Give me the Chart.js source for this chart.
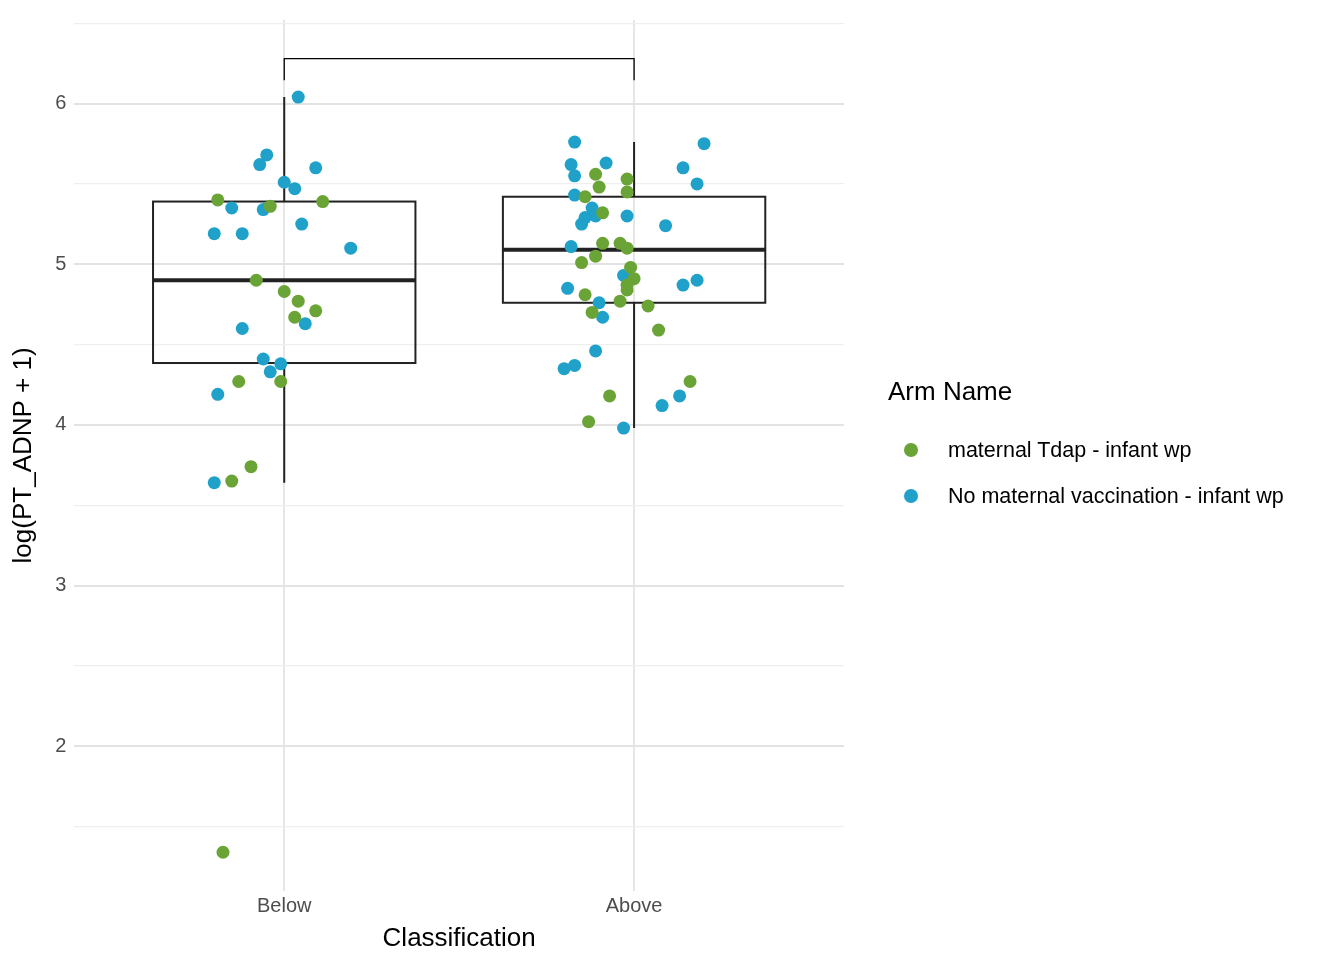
<!DOCTYPE html>
<html><head><meta charset="utf-8">
<script src="https://cdn.jsdelivr.net/npm/chart.js@4/dist/chart.umd.min.js"></script>
<style>
body{margin:0;background:#fff;font-family:"Liberation Sans",Arial,sans-serif;}
#wrap{position:relative;width:1344px;height:960px;}
#legend{position:absolute;left:888px;top:376px;color:#000;}
#legend .t{font-size:26px;margin-bottom:20px;}
#legend .r{font-size:21.5px;height:46px;display:flex;align-items:center;}
#legend .d{width:14px;height:14px;border-radius:50%;margin:0 30px 0 16px;}
</style></head><body>
<div id="wrap"><canvas id="c" width="1344" height="960"></canvas>
<div id="legend"><div class="t">Arm Name</div>
<div class="r"><span class="d" style="background:#6aa336"></span>maternal Tdap - infant wp</div>
<div class="r"><span class="d" style="background:#1fa1c9"></span>No maternal vaccination - infant wp</div></div></div>
<script>
var categories = ["Below", "Above"];
var seriesNames = ["maternal Tdap - infant wp", "No maternal vaccination - infant wp"];
var colors = ["#6aa336", "#1fa1c9"];
// jittered points [x position, value]
var tdapBelow = [[0.81,5.40],[0.96,5.36],[0.92,4.90],[1.00,4.83],[1.04,4.77],[1.09,4.71],[1.03,4.67],[0.87,4.27],[0.99,4.27],[0.905,3.74],[0.85,3.65],[0.825,1.34],[1.11,5.39]];
var noVaxBelow = [[1.04,6.04],[0.95,5.68],[0.93,5.62],[1.09,5.60],[1.00,5.51],[1.03,5.47],[0.85,5.35],[0.94,5.34],[1.05,5.25],[0.80,5.19],[0.88,5.19],[1.19,5.10],[0.88,4.60],[1.06,4.63],[0.94,4.41],[0.99,4.38],[0.96,4.33],[0.81,4.19],[0.80,3.64]];
var tdapAbove = [[1.89,5.56],[1.98,5.53],[1.90,5.48],[1.98,5.45],[1.86,5.42],[1.91,5.32],[1.91,5.13],[1.96,5.13],[1.98,5.10],[1.89,5.05],[1.85,5.01],[1.99,4.98],[2.00,4.91],[1.98,4.87],[1.98,4.84],[1.86,4.81],[1.96,4.77],[2.04,4.74],[1.88,4.70],[2.07,4.59],[2.16,4.27],[1.93,4.18],[1.87,4.02]];
var noVaxAbove = [[1.83,5.76],[2.20,5.75],[1.82,5.62],[1.92,5.63],[1.83,5.55],[2.14,5.60],[2.18,5.50],[1.83,5.43],[1.88,5.35],[1.89,5.30],[1.98,5.30],[1.86,5.29],[1.85,5.25],[2.09,5.24],[1.82,5.11],[1.97,4.93],[2.18,4.90],[2.14,4.87],[1.81,4.85],[1.90,4.76],[1.91,4.67],[1.89,4.46],[1.83,4.37],[1.80,4.35],[2.13,4.18],[2.08,4.12],[1.97,3.98]];
// box stats: [whiskerLow, q1, median, q3, whiskerHigh]
var boxStats = [[3.64,4.385,4.90,5.39,6.04],[3.98,4.76,5.09,5.42,5.76]];
var bracket = {y: 6.28, drop: 6.145};

function pts(a){ return a.map(function(p){ return {x:p[0], y:p[1]}; }); }

var boxPlugin = {
  id: "boxes",
  beforeDatasetsDraw: function(chart){
    var ctx = chart.ctx, xs = chart.scales.x, ys = chart.scales.y;
    ctx.save();
    ctx.strokeStyle = "#222"; ctx.lineWidth = 2;
    boxStats.forEach(function(b, i){
      var cx = xs.getPixelForValue(i + 1);
      var l = xs.getPixelForValue(i + 1 - 0.375), r = xs.getPixelForValue(i + 1 + 0.375);
      ctx.beginPath();
      ctx.moveTo(cx, ys.getPixelForValue(b[0])); ctx.lineTo(cx, ys.getPixelForValue(b[1]));
      ctx.moveTo(cx, ys.getPixelForValue(b[3])); ctx.lineTo(cx, ys.getPixelForValue(b[4]));
      ctx.stroke();
      ctx.strokeRect(l, ys.getPixelForValue(b[3]), r - l, ys.getPixelForValue(b[1]) - ys.getPixelForValue(b[3]));
      ctx.lineWidth = 4;
      ctx.beginPath();
      ctx.moveTo(l, ys.getPixelForValue(b[2])); ctx.lineTo(r, ys.getPixelForValue(b[2]));
      ctx.stroke();
      ctx.lineWidth = 2;
    });
    ctx.lineWidth = 1.3; ctx.strokeStyle = "#000";
    var x1 = xs.getPixelForValue(1), x2 = xs.getPixelForValue(2);
    ctx.beginPath();
    ctx.moveTo(x1, ys.getPixelForValue(bracket.drop));
    ctx.lineTo(x1, ys.getPixelForValue(bracket.y));
    ctx.lineTo(x2, ys.getPixelForValue(bracket.y));
    ctx.lineTo(x2, ys.getPixelForValue(bracket.drop));
    ctx.stroke();
    ctx.restore();
  }
};

new Chart(document.getElementById("c").getContext("2d"), {
  type: "scatter",
  data: { datasets: [
    { label: seriesNames[0], data: pts(tdapBelow.concat(tdapAbove)), backgroundColor: colors[0], borderWidth: 0, pointRadius: 6.5 },
    { label: seriesNames[1], data: pts(noVaxBelow.concat(noVaxAbove)), backgroundColor: colors[1], borderWidth: 0, pointRadius: 6.5 }
  ]},
  options: {
    responsive: false, animation: false,
    layout: { padding: { top: 9, right: 500, bottom: 6, left: 0 } },
    plugins: { legend: { display: false }, tooltip: { enabled: false } },
    scales: {
      x: { type: "linear", min: 0.4, max: 2.6,
        afterBuildTicks: function(s){ s.ticks = [{value:1},{value:2}]; },
        ticks: { callback: function(v){ return categories[v - 1]; }, color: "#4d4d4d", font: { size: 20, family: "Liberation Sans" }, padding: 4 },
        grid: { color: "#e6e6e6", lineWidth: 2, drawTicks: false }, border: { display: false },
        title: { display: true, text: "Classification", color: "#000", font: { size: 26, family: "Liberation Sans" }, padding: 0 } },
      y: { min: 1.1, max: 6.52,
        afterBuildTicks: function(s){ s.ticks = [1.5,2,2.5,3,3.5,4,4.5,5,5.5,6,6.5].map(function(v){ return {value:v}; }); },
        ticks: { callback: function(v){ return Number.isInteger(v) ? v : ""; }, color: "#4d4d4d", font: { size: 20, family: "Liberation Sans" }, padding: 8 },
        grid: { color: function(c){ return Number.isInteger(c.tick.value) ? "#e3e3e3" : "#efefef"; }, lineWidth: function(c){ return Number.isInteger(c.tick.value) ? 2 : 1.2; }, drawTicks: false },
        border: { display: false },
        title: { display: true, text: "log(PT_ADNP + 1)", color: "#000", font: { size: 26, family: "Liberation Sans" }, padding: 8 } }
    }
  },
  plugins: [boxPlugin]
});
</script></body></html>
